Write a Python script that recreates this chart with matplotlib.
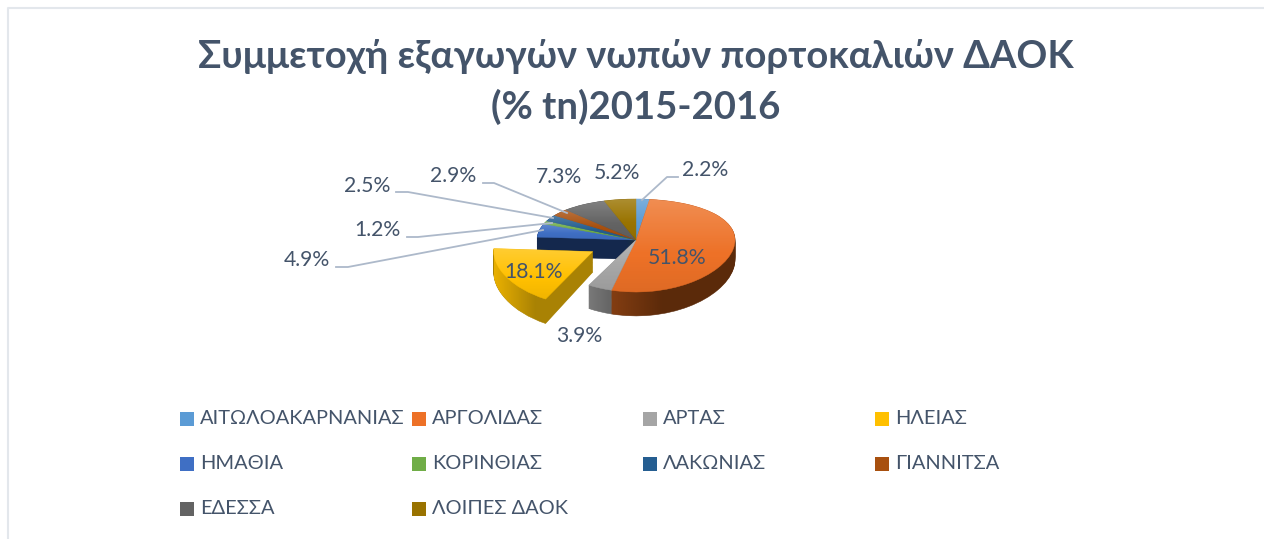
import numpy as np
import matplotlib
matplotlib.use("Agg")
import matplotlib.pyplot as plt
from matplotlib.colors import to_rgb
from matplotlib.patches import Rectangle
from matplotlib.path import Path
from matplotlib.transforms import IdentityTransform

title = "Συμμετοχή εξαγωγών νωπών πορτοκαλιών ΔΑΟΚ\n(% tn)2015-2016"
categories = ["ΑΙΤΩΛΟΑΚΑΡΝΑΝΙΑΣ", "ΑΡΓΟΛΙΔΑΣ", "ΑΡΤΑΣ", "ΗΛΕΙΑΣ", "ΗΜΑΘΙΑ",
              "ΚΟΡΙΝΘΙΑΣ", "ΛΑΚΩΝΙΑΣ", "ΓΙΑΝΝΙΤΣΑ", "ΕΔΕΣΣΑ", "ΛΟΙΠΕΣ ΔΑΟΚ"]
values = [2.2, 51.8, 3.9, 18.1, 4.9, 1.2, 2.5, 2.9, 7.3, 5.2]
explode = [0, 0, 0, 0.5, 0, 0, 0, 0, 0, 0]
colors = ["#5b9bd5", "#ed7127", "#a5a5a5", "#ffc000", "#3f6fc4",
          "#70ad47", "#255e91", "#a8500f", "#636363", "#997300"]
side_colors = ["#2d4d6a", "#5b2a0a", "#666666", "#a98204", "#14284d",
               "#38572a", "#122f48", "#4f2407", "#323232", "#4d3a00"]
side_sheen = {1: 0.28, 2: 0.3, 3: 0.75}

W, H = 1264, 539
TXT = "#44546a"
plt.rcParams["font.family"] = ["Lato", "Noto Sans", "DejaVu Sans"]
fig = plt.figure(figsize=(W / 100, H / 100), dpi=100, facecolor="white")

# pie geometry
cx, cy, rx = 636, 240, 99
a, b = 46.5, -5.5
fwd = lambda y: a * y + b * y * y
inv = lambda f: (-a + np.sqrt(np.maximum(a * a + 4 * b * f, 0))) / (2 * b)
ylo, yhi, xm = -2.2, 1.8, 1.6
ftop, fbot = fwd(yhi), fwd(ylo)
rect = [(cx - xm * rx) / W, 1 - (cy - fbot) / H, 2 * xm * rx / W, (ftop - fbot) / H]


def pie_axes(zorder):
    axis = fig.add_axes(rect, zorder=zorder)
    axis.patch.set_alpha(0)
    return axis


def finish(axis):
    axis.set_aspect("auto")
    axis.set_yscale("function", functions=(fwd, inv))
    axis.set_xlim(-xm, xm)
    axis.set_ylim(ylo, yhi)
    axis.axis("off")


def pixel_axes(zorder):
    axis = fig.add_axes([0, 0, 1, 1], zorder=zorder)
    axis.set_xlim(0, W)
    axis.set_ylim(H, 0)
    axis.axis("off")
    axis.patch.set_alpha(0)
    return axis


common = dict(explode=explode, startangle=90, counterclock=False, radius=1, frame=True)
depth = 0.40

ax_side = pie_axes(1)
layers = []
for d in np.linspace(depth, 0.01, 26):
    w, _ = ax_side.pie(values, colors=side_colors, center=(0, -d),
                       wedgeprops=dict(linewidth=0.4), **common)
    for p, c in zip(w, side_colors):
        p.set_edgecolor(c)
    layers.append(w)
finish(ax_side)

ax_top = pie_axes(3)
tops, _ = ax_top.pie(values, colors=colors, center=(0, 0),
                     wedgeprops=dict(linewidth=0.3), **common)
for p, c in zip(tops, colors):
    p.set_edgecolor(c)
finish(ax_top)

ov_side = pixel_axes(2)
ov = pixel_axes(5)
fig.canvas.draw()

# horizontal light fall-off on the visible sides
for i, amount in side_sheen.items():
    paths = [lay[i].get_transform().transform_path(lay[i].get_path()) for lay in layers]
    union = Path.make_compound_path(*paths)
    ext = union.get_extents()
    t = np.linspace(0, 1, 128)
    g = np.ones((2, 128, 4))
    g[..., :3] = to_rgb(colors[i])
    g[..., 3] = amount * np.clip(1 - t / 0.42, 0, 1)
    im = ov_side.imshow(g, extent=(ext.x0, ext.x1, H - ext.y0, H - ext.y1),
                        aspect="auto", interpolation="bilinear")
    im.set_clip_path(union, IdentityTransform())
ov_side.set_xlim(0, W)
ov_side.set_ylim(H, 0)

# soft vertical sheen on each top face
for p in tops:
    ext = p.get_transform().transform_path(p.get_path()).get_extents()
    t = np.linspace(0, 1, 64)
    g = np.zeros((64, 2, 4))
    g[..., :3] = np.where(t[:, None, None] < 0.6, 1.0, 0.0)
    g[..., 3] = np.where(t < 0.6, 0.2 * (1 - t / 0.6), 0.06 * (t - 0.6) / 0.4)[:, None]
    im = ov.imshow(g, extent=(ext.x0, ext.x1, H - ext.y0, H - ext.y1),
                   aspect="auto", interpolation="bilinear")
    im.set_clip_path(p)

# chart border (top and left only are visible)
ov.plot([7.5, 7.5, W], [H, 8, 8], color="#e3e7ec", lw=1.5)

ov.text(636, 82, title, ha="center", va="center", fontsize=27.5, fontweight="bold",
        color=TXT, linespacing=1.5)

# data labels and leader lines
label_pos = [(705, 170), (677, 258), (579, 336), (534, 272), (307, 260),
             (377, 230), (367, 186), (453, 176), (559, 177), (617, 173)]
leaders = {0: [(642, 200), (667, 177), (678, 177)],
           4: [(336, 267), (348, 267), (543, 230)],
           5: [(407, 237), (418, 237), (552, 223)],
           6: [(396, 192), (408, 192), (553, 218)],
           7: [(483, 183), (494, 183), (567, 213)]}
for pts in leaders.values():
    xs, ys = zip(*pts)
    ov.plot(xs, ys, color="#adb9ca", lw=1.3)
for v, (x, y) in zip(values, label_pos):
    ov.text(x, y, f"{v:.1f}%", ha="center", va="center", fontsize=15.2, color=TXT)

# legend
col_x = [180, 412, 643, 875]
row_y = [418.5, 463.5, 508.5]
for i, (name, c) in enumerate(zip(categories, colors)):
    x, y = col_x[i % 4], row_y[i // 4]
    ov.add_patch(Rectangle((x, y - 7), 14, 14, facecolor=c, edgecolor="none"))
    g = np.ones((2, 2, 4))
    g[0, :, 3] = 0.18
    g[1, :, 3] = 0.0
    ov.imshow(g, extent=(x, x + 14, y + 7, y - 7), aspect="auto", interpolation="bilinear")
    ov.text(x + 20, y, name, ha="left", va="center", fontsize=14.4, color=TXT)
ov.set_xlim(0, W)
ov.set_ylim(H, 0)

fig.savefig("out.png", dpi=100)
